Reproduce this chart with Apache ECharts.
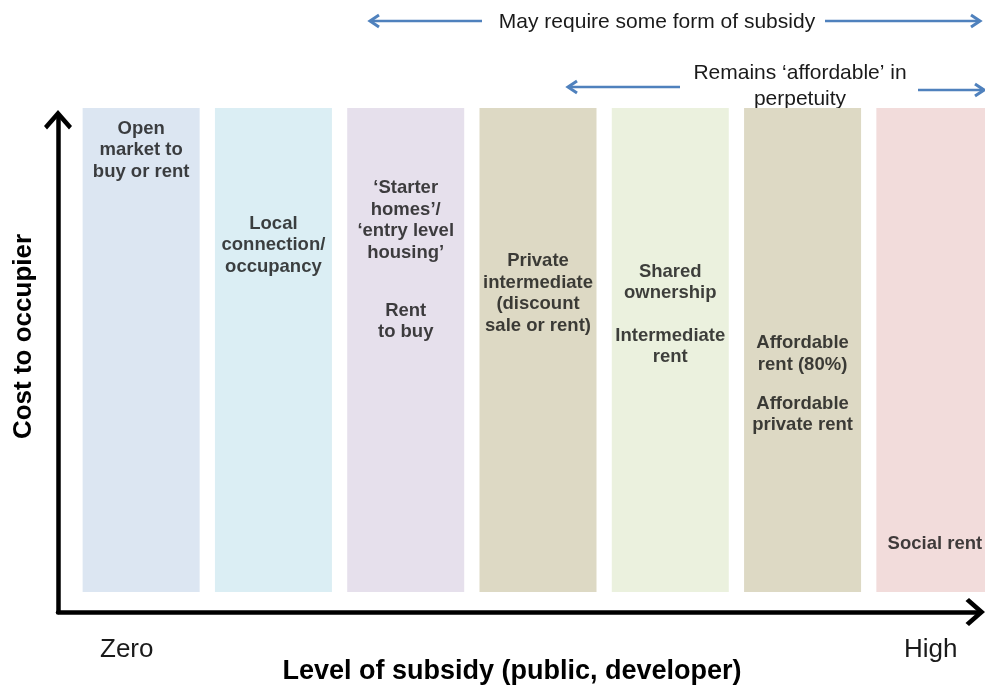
<!DOCTYPE html>
<html>
<head>
<meta charset="utf-8">
<script src="https://cdn.jsdelivr.net/npm/echarts@6/dist/echarts.min.js"></script>
<style>
html, body { margin: 0; padding: 0; background: #fff; }
#main { width: 985px; height: 686px; }
</style>
</head>
<body>
<div id="main"></div>
<script>
// housing products, ordered from no subsidy (left) to high subsidy (right)
var columns = ['Open market', 'Local connection', 'Starter homes', 'Private intermediate',
               'Shared ownership', 'Affordable rent', 'Social rent'];
var columnHeight = [100, 100, 100, 100, 100, 100, 100];
var columnColors = ['#dce6f2', '#dbeef4', '#e6e0ec', '#ddd9c4', '#ebf1de', '#ddd9c4', '#f2dcdb'];

// text blocks in the columns: column index + rough level on the cost axis
var blockText = [
    'Open\nmarket to\nbuy or rent',
    'Local\nconnection/\noccupancy',
    '‘Starter\nhomes’/\n‘entry level\nhousing’',
    'Rent\nto buy',
    'Private\nintermediate\n(discount\nsale or rent)',
    'Shared\nownership',
    'Intermediate\nrent',
    'Affordable\nrent (80%)',
    'Affordable\nprivate rent',
    'Social rent'
];
var blockColumn = [0, 1, 2, 2, 3, 4, 4, 5, 5, 6];
var blockCost = [91.3, 71.7, 76.8, 55.9, 61.7, 64.0, 50.7, 49.2, 36.7, 9.9];

var subsidyEnds = ['Zero', 'High'];
var axisNames = ['Level of subsidy (public, developer)', 'Cost to occupier'];
var bandText = ['May require some form of subsidy', 'Remains ‘affordable’ in\nperpetuity'];

var font = '"Liberation Sans", Arial, sans-serif';
var blue = '#4f81bd';
// open chevron, drawn pointing up
var chevron = 'path://M14,0 L28,16 L25,19.5 L14,7 L3,19.5 L0,16 Z';

var myChart = echarts.init(document.getElementById('main'));

function blueArrow(x1, x2, y, tipLeft) {
    var tx = tipLeft ? x1 : x2;
    var d = tipLeft ? 9 : -9;
    return [
        { type: 'line', shape: { x1: x1, y1: y, x2: x2, y2: y },
          style: { stroke: blue, lineWidth: 2.5 } },
        { type: 'polyline', shape: { points: [[tx + d, y - 6], [tx, y], [tx + d, y + 6]] },
          style: { stroke: blue, lineWidth: 3, fill: null } }
    ];
}

function bandLabel(text, x, y) {
    return {
        type: 'text',
        style: {
            text: text, x: x, y: y,
            font: '21px ' + font, fill: '#1a1a1a', lineHeight: 26,
            align: 'center', verticalAlign: 'middle',
            textAlign: 'center', textVerticalAlign: 'middle'
        }
    };
}

var axisBase = {
    type: 'value', gridIndex: 1, min: 0, max: 1,
    axisTick: { show: false }, axisLabel: { show: false }, splitLine: { show: false },
    nameLocation: 'middle',
    nameTextStyle: { fontSize: 26, fontWeight: 'bold', color: '#000', fontFamily: font },
    axisLine: {
        show: true, onZero: false,
        lineStyle: { color: '#000', width: 4.5 },
        symbol: ['none', chevron], symbolSize: [28, 19.5], symbolOffset: [0, -2.75]
    }
};

var option = {
    animation: false,
    title: [
        { text: subsidyEnds[0], left: 95, top: 632,
          textStyle: { fontSize: 26, fontWeight: 'normal', color: '#1a1a1a', fontFamily: font } },
        { text: subsidyEnds[1], left: 899, top: 632,
          textStyle: { fontSize: 26, fontWeight: 'normal', color: '#1a1a1a', fontFamily: font } }
    ],
    grid: [
        { left: 75, width: 926, top: 108, bottom: 94, outerBoundsMode: 'none' },
        { left: 58, right: 7, top: 117, bottom: 74, outerBoundsMode: 'none' }
    ],
    xAxis: [
        { type: 'category', gridIndex: 0, data: columns, show: false },
        Object.assign({}, axisBase, {
            name: axisNames[0], nameGap: 46,
            nameTextStyle: Object.assign({}, axisBase.nameTextStyle, { fontSize: 27, padding: [0, 12, 0, 0] })
        })
    ],
    yAxis: [
        { type: 'value', gridIndex: 0, min: 0, max: 100, show: false },
        Object.assign({}, axisBase, {
            name: axisNames[1], nameGap: 21, nameRotate: 90,
            nameTextStyle: Object.assign({}, axisBase.nameTextStyle, { padding: [0, 0, 0, 56] })
        })
    ],
    series: [
        {
            type: 'bar', xAxisIndex: 0, yAxisIndex: 0, silent: true,
            barWidth: 117,
            data: columnHeight.map(function (v, i) {
                return { value: v, itemStyle: { color: columnColors[i] } };
            })
        },
        {
            type: 'scatter', xAxisIndex: 0, yAxisIndex: 0, silent: true,
            symbolSize: 1,
            itemStyle: { color: 'rgba(0,0,0,0)' },
            label: {
                show: true, position: 'inside', formatter: '{b}',
                fontSize: 18.5, fontWeight: 'bold', lineHeight: 21.5,
                color: '#111', fontFamily: font
            },
            data: blockText.map(function (t, i) {
                return { name: t, value: [blockColumn[i], blockCost[i]] };
            })
        }
    ],
    graphic: [].concat(
        blueArrow(370, 482, 21, true),
        blueArrow(825, 980, 21, false),
        blueArrow(568, 680, 87, true),
        blueArrow(918, 984, 90, false),
        [bandLabel(bandText[0], 657, 22), bandLabel(bandText[1], 800, 86)]
    )
};

myChart.setOption(option);
</script>
</body>
</html>
